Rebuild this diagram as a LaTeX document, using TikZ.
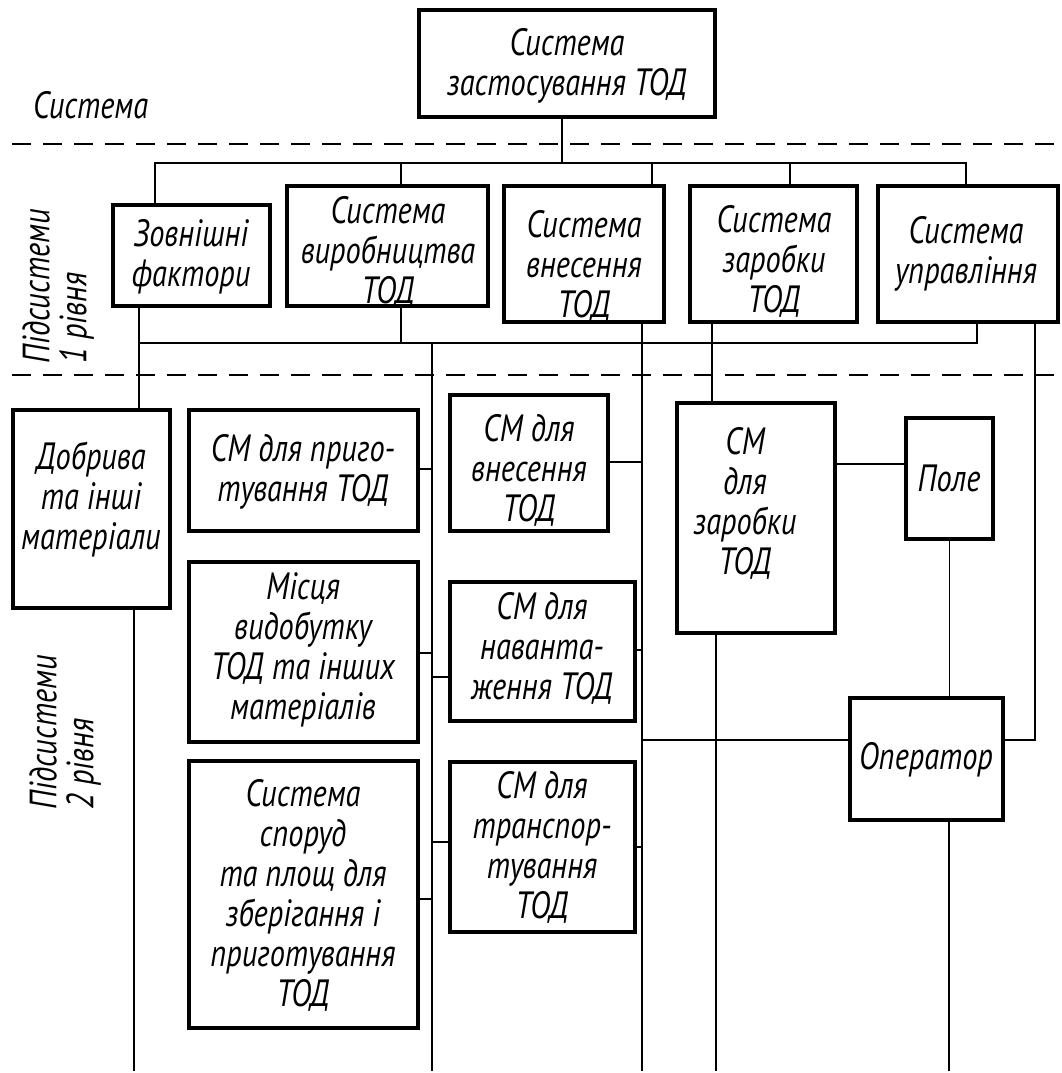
\documentclass[tikz,border=0pt]{standalone}
\usepackage{fontspec}
\setmainfont{PT Sans}[FakeStretch=0.8]
\begin{document}
\begin{tikzpicture}[x=1pt,y=-1pt,
  box/.style={draw, line width=3.2pt, inner sep=0pt, outer sep=0pt},
  txt/.style={font=\fontsize{38}{40}\selectfont\itshape, align=center, inner sep=0pt},
  conn/.style={line width=1.2pt},
  sep/.style={line width=1.3pt, dash pattern=on 19pt off 12pt}]
\useasboundingbox (0,0) rectangle (1062,1073);

% separators
\coordinate (s1a) at (12,144); \coordinate (s1b) at (1062,144);
\coordinate (s2a) at (12,375); \coordinate (s2b) at (1062,375);
\draw[sep] (s1a) -- (s1b);
\draw[sep] (s2a) -- (s2b);

% side labels
\node[txt, anchor=base west] (lsys) at (33,118) {Система};
\node[txt, rotate=90, anchor=north west, align=left, font=\fontsize{38}{37}\selectfont\itshape] (lev1) at (22,364) {Підсистеми\\1 рівня};
\node[txt, rotate=90, anchor=north west, align=left, font=\fontsize{38}{37}\selectfont\itshape] (lev2) at (29,810) {Підсистеми\\2 рівня};

% boxes
\node[box, minimum width=296pt, minimum height=107pt] (top) at (567,63.5) {};
\node[box, minimum width=157pt, minimum height=101pt] (zf) at (191.5,255.5) {};
\node[box, minimum width=201pt, minimum height=120pt] (vy) at (387.5,246) {};
\node[box, minimum width=160pt, minimum height=136pt] (vn) at (584,254) {};
\node[box, minimum width=167pt, minimum height=136pt] (za) at (773.5,254) {};
\node[box, minimum width=180pt, minimum height=136pt] (up) at (968,254) {};
\node[box, minimum width=157pt, minimum height=198pt] (db) at (91.5,509) {};
\node[box, minimum width=229pt, minimum height=121pt] (cp) at (303.5,470.5) {};
\node[box, minimum width=229pt, minimum height=180pt] (mv) at (303.5,652) {};
\node[box, minimum width=229pt, minimum height=267pt] (ss) at (303.5,894.5) {};
\node[box, minimum width=158pt, minimum height=136pt] (cv) at (529,463) {};
\node[box, minimum width=185pt, minimum height=139pt] (cn) at (542.5,651.5) {};
\node[box, minimum width=185pt, minimum height=170pt] (ct) at (542.5,847) {};
\node[box, minimum width=158pt, minimum height=230pt] (cz) at (756,518) {};
\node[box, minimum width=87pt, minimum height=121pt] (po) at (949.5,478.5) {};
\node[box, minimum width=153pt, minimum height=122pt] (op) at (926.5,759) {};

% texts
\node[txt] (top-t) at (567,66) {Система\\застосування ТОД};
\node[txt] (zf-t) at (191,257) {Зовнішні\\фактори};
\node[txt] (vy-t) at (388,252) {Система\\виробництва\\ТОД};
\node[txt] (vn-t) at (584,266) {Система\\внесення\\ТОД};
\node[txt] (za-t) at (774,261) {Система\\заробки\\ТОД};
\node[txt] (up-t) at (966,254) {Система\\управління};
\node[txt] (db-t) at (91,500) {Добрива\\та інші\\матеріали};
\node[txt] (cp-t) at (303,472) {СМ для приго-\\тування ТОД};
\node[txt] (mv-t) at (303,650) {Місця\\видобутку\\ТОД та інших\\матеріалів};
\node[txt] (ss-t) at (303,895) {Система\\споруд\\та площ для\\зберігання і\\приготування\\ТОД};
\node[txt] (cv-t) at (529,470) {СМ для\\внесення\\ТОД};
\node[txt] (cn-t) at (542,648) {СМ для\\наванта-\\ження ТОД};
\node[txt] (ct-t) at (542,847) {СМ для\\транспор-\\тування\\ТОД};
\node[txt] (cz-t) at (745,503) {СМ\\для\\заробки\\ТОД};
\node[txt] (po-t) at (949,478) {Поле};
\node[txt] (op-t) at (926,760) {Оператор};

% level 0 -> level 1 bus
\coordinate (t1) at (562,163);
\coordinate (b1L) at (155,163); \coordinate (b1R) at (966,163);
\coordinate (d2) at (401,163); \coordinate (d3) at (652,163); \coordinate (d4) at (790,163);
\draw[conn] (top.south -| t1) -- (t1);
\draw[conn] (zf.north -| b1L) -- (b1L) -- (b1R) -- (up.north -| b1R);
\draw[conn] (d2) -- (vy.north -| d2);
\draw[conn] (d3) -- (vn.north -| d3);
\draw[conn] (d4) -- (za.north -| d4);

% level 1 -> level 2 bus
\coordinate (b2L) at (139,343); \coordinate (b2R) at (977,343);
\coordinate (e2) at (401,343);
\coordinate (x712) at (712,343);
\draw[conn] (zf.south -| b2L) -- (db.north -| b2L);
\draw[conn] (b2L) -- (b2R) -- (up.south -| b2R);
\draw[conn] (vy.south -| e2) -- (e2);
\draw[conn] (za.south -| x712) -- (cz.north -| x712);

% long verticals
\coordinate (v134) at (134,1071);
\coordinate (v432t) at (432,343); \coordinate (v432b) at (432,1071);
\coordinate (v642) at (642,1071);
\coordinate (v716) at (716,1071);
\coordinate (v949) at (949,1071);
\draw[conn] (db.south -| v134) -- (v134);
\draw[conn] (v432t) -- (v432b);
\draw[conn] (vn.south -| v642) -- (v642);
\draw[conn] (cz.south -| v716) -- (v716);
\draw[conn] (op.south -| v949) -- (v949);

% side connectors to x=432
\coordinate (h1) at (432,469); \coordinate (h2) at (432,653); \coordinate (h3) at (432,899);
\coordinate (h4) at (432,677); \coordinate (h5) at (432,842);
\draw[conn] (cp.east |- h1) -- (h1);
\draw[conn] (mv.east |- h2) -- (h2);
\draw[conn] (ss.east |- h3) -- (h3);
\draw[conn] (cn.west |- h4) -- (h4);
\draw[conn] (ct.west |- h5) -- (h5);

% side connectors to x=642
\coordinate (k1) at (642,462); \coordinate (k2) at (642,650); \coordinate (k3) at (642,847);
\draw[conn] (cv.east |- k1) -- (k1);
\draw[conn] (cn.east |- k2) -- (k2);
\draw[conn] (ct.east |- k3) -- (k3);

% right part
\coordinate (y464) at (870,464);
\draw[conn] (cz.east |- y464) -- (po.west |- y464);
\draw[conn] (po.south) -- (po.south |- op.north);
\coordinate (l1) at (642,740);
\draw[conn] (l1) -- (op.west |- l1);
\coordinate (r1) at (1035,740);
\draw[conn] (up.south -| r1) -- (r1) -- (op.east |- r1);
\end{tikzpicture}
\end{document}
